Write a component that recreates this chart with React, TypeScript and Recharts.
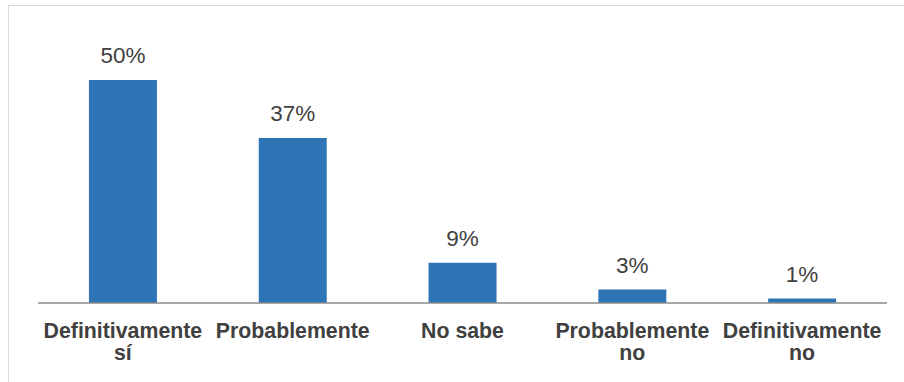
import React from 'react';
import { BarChart, Bar, XAxis, YAxis, LabelList } from 'recharts';

const categories = ['Definitivamente sí', 'Probablemente', 'No sabe', 'Probablemente no', 'Definitivamente no'];
const percentages = [50, 37, 9, 3, 1];

const data = categories.map((name, i) => ({ name, value: percentages[i] }));

const FONT = '"Liberation Sans", Arial, sans-serif';
const TEXT_COLOR = '#404040';

// wrap long labels onto two lines at the last space
function splitLabel(label: string): string[] {
  if (label.length <= 14) return [label];
  const idx = label.lastIndexOf(' ');
  return [label.slice(0, idx), label.slice(idx + 1)];
}

function CategoryTick(props: any) {
  const { x, y, payload } = props;
  const lines = splitLabel(String(payload.value));
  return (
    <g transform={`translate(${x},${y})`}>
      <text textAnchor="middle" fill={TEXT_COLOR} fontFamily={FONT} fontSize={21.3} fontWeight="bold">
        {lines.map((line, i) => (
          <tspan key={i} x={0} dy={i === 0 ? 35 : 22}>
            {line}
          </tspan>
        ))}
      </text>
    </g>
  );
}

export default function App() {
  return (
    <div style={{ position: 'fixed', inset: 0, overflow: 'hidden', background: '#fff' }}>
      <div
        style={{
          position: 'absolute',
          left: 8,
          top: 5,
          width: 910,
          height: 390,
          border: '1px solid #d9d9d9',
          boxSizing: 'border-box',
        }}
      >
        <BarChart
          width={895}
          height={376}
          data={data}
          margin={{ top: 74, right: 17, left: 29, bottom: 0 }}
          barCategoryGap="30%"
        >
          <XAxis
            dataKey="name"
            height={79}
            interval={0}
            tickLine={false}
            tickSize={0}
            tickMargin={0}
            axisLine={{ stroke: '#8a8a8a', strokeWidth: 1.5 }}
            tick={<CategoryTick />}
          />
          <YAxis hide domain={[0, 50]} />
          <Bar dataKey="value" fill="#2E75B6" isAnimationActive={false}>
            <LabelList
              dataKey="value"
              position="top"
              offset={17}
              formatter={(v: any) => `${v}%`}
              style={{ fill: TEXT_COLOR, fontFamily: FONT, fontSize: 22.5 }}
            />
          </Bar>
        </BarChart>
      </div>
    </div>
  );
}
